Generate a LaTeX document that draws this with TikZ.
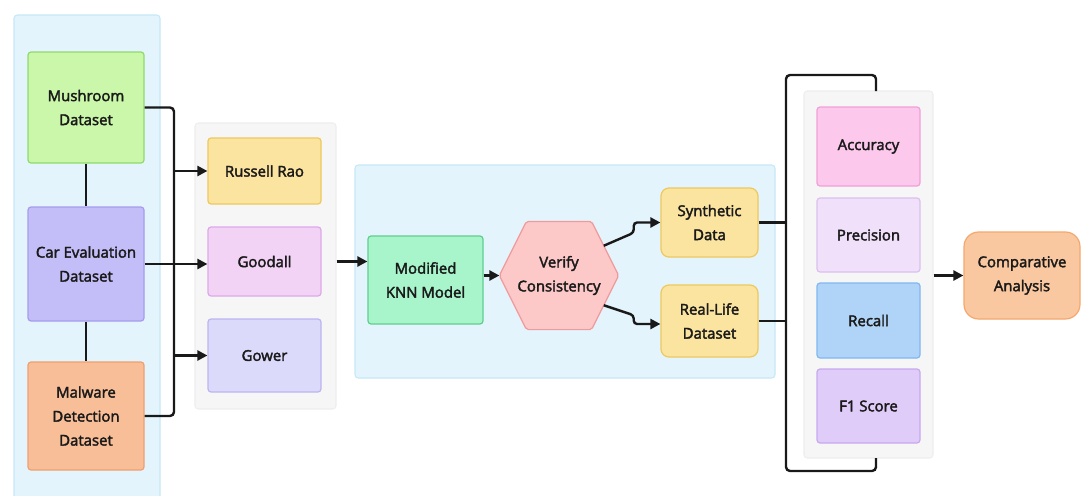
\documentclass[tikz,border=0pt]{standalone}
\usepackage{fontspec}
\setmainfont{Open Sans}[FakeBold=2.5]
\usetikzlibrary{arrows.meta,calc}
\definecolor{panelblue}{HTML}{E3F4FC}
\definecolor{panelblueb}{HTML}{C6E8F8}
\definecolor{panelgray}{HTML}{F6F6F6}
\definecolor{panelgrayb}{HTML}{EEEEEE}
\definecolor{gfill}{HTML}{CAF7AA}\definecolor{gdraw}{HTML}{8FDB6C}
\definecolor{pfill}{HTML}{C4BEF8}\definecolor{pdraw}{HTML}{A69BEE}
\definecolor{ofill}{HTML}{F8BE98}\definecolor{odraw}{HTML}{F0A070}
\definecolor{yfill}{HTML}{FBE3A0}\definecolor{ydraw}{HTML}{EDC95E}
\definecolor{kfill}{HTML}{F2D3F5}\definecolor{kdraw}{HTML}{DDA8EA}
\definecolor{lfill}{HTML}{DCDAFB}\definecolor{ldraw}{HTML}{BDB5F0}
\definecolor{mfill}{HTML}{A8F5CC}\definecolor{mdraw}{HTML}{5FCF8E}
\definecolor{hfill}{HTML}{FCC8C8}\definecolor{hdraw}{HTML}{F09A9A}
\definecolor{afill}{HTML}{FCC8EC}\definecolor{adraw}{HTML}{F0A0D8}
\definecolor{prfill}{HTML}{F0E0FA}\definecolor{prdraw}{HTML}{DCC0F0}
\definecolor{rfill}{HTML}{B0D4F8}\definecolor{rdraw}{HTML}{80B8F0}
\definecolor{ffill}{HTML}{E0CCF8}\definecolor{fdraw}{HTML}{C8A8F0}
\definecolor{cfill}{HTML}{FAC8A0}\definecolor{cdraw}{HTML}{F4A870}
\definecolor{txt}{HTML}{1A1A1A}
\tikzset{
  sz/.style 2 args={minimum width=#1*0.75pt, minimum height=#2*0.75pt},
  box/.style={draw, line width=0.9pt, rounded corners=2.3pt, align=center, inner sep=0pt,
    text=txt, font=\fontsize{11.2}{18}\selectfont},
  panel/.style={draw, line width=0.8pt, rounded corners=2.5pt, inner sep=0pt},
  conn/.style={line width=1.8pt, black!90, rounded corners=3pt},
  arr/.style={line width=1.8pt, black!90, -{Triangle[length=7.5pt,width=7.5pt]}},
  jarr/.style={arr, rounded corners=2.5pt},
}
\begin{document}
\begin{tikzpicture}[x=0.75pt,y=-0.75pt]
\useasboundingbox (0,0) rectangle (1089,496);
\fill[white] (0,0) rectangle (1089,496);
% panels
\node[panel, fill=panelblue, draw=panelblueb, sz={146}{490}] (p1) at (87,260) {};
\node[panel, fill=panelgray, draw=panelgrayb, sz={141}{286}] (p2) at (265.5,266) {};
\node[panel, fill=panelblue, draw=panelblueb, sz={420}{213}] (p3) at (565,271.5) {};
\node[panel, fill=panelgray, draw=panelgrayb, sz={129}{367}] (p4) at (868.5,274.5) {};
% datasets
\node[box, fill=gfill, draw=gdraw, sz={116}{111}] (mush) at (86,107.5) {Mushroom\\Dataset};
\node[box, fill=pfill, draw=pdraw, sz={116}{114}] (car) at (86,264) {Car Evaluation\\Dataset};
\node[box, fill=ofill, draw=odraw, sz={116}{108}] (mal) at (86,416) {Malware\\Detection\\Dataset};
% measures
\node[box, fill=yfill, draw=ydraw, sz={113}{66}] (russ) at (264.5,171) {Russell Rao};
\node[box, fill=kfill, draw=kdraw, sz={113}{69}] (good) at (264.5,261.5) {Goodall};
\node[box, fill=lfill, draw=ldraw, sz={113}{73}] (gow) at (264.5,355.5) {Gower};
% model
\node[box, fill=mfill, draw=mdraw, sz={115}{88}] (knn) at (425.5,280) {Modified\\KNN Model};
\node[box, draw=none, sz={118}{107}] (hex) at (559,275.5) {};
\coordinate (hnw) at ($(hex.north west)+(27,0)$);
\coordinate (hne) at ($(hex.north east)+(-27,0)$);
\coordinate (hsw) at ($(hex.south west)+(27,0)$);
\coordinate (hse) at ($(hex.south east)+(-27,0)$);
\filldraw[fill=hfill, draw=hdraw, line width=0.9pt, rounded corners=1.5pt]
  (hex.west) -- (hnw) -- (hne) -- (hex.east) -- (hse) -- (hsw) -- cycle;
\node[box, draw=none, sz={118}{107}] at (hex) {Verify\\Consistency};
\node[box, fill=yfill, draw=ydraw, rounded corners=6pt, sz={97}{69}] (syn) at (709.5,222.5) {Synthetic\\Data};
\node[box, fill=yfill, draw=ydraw, rounded corners=6pt, sz={97}{72}] (real) at (709.5,321) {Real-Life\\Dataset};
% metrics
\node[box, fill=afill, draw=adraw, sz={103}{79}] (acc) at (868.5,146.5) {Accuracy};
\node[box, fill=prfill, draw=prdraw, sz={103}{74}] (prec) at (868.5,235) {Precision};
\node[box, fill=rfill, draw=rdraw, sz={103}{75}] (rec) at (868.5,320.5) {Recall};
\node[box, fill=ffill, draw=fdraw, sz={103}{74}] (f1) at (868.5,406) {F1 Score};
\node[box, fill=cfill, draw=cdraw, rounded corners=11pt, sz={116}{87}] (comp) at (1022,275.5) {Comparative\\Analysis};
% connectors left
\coordinate (lx) at (174,0);
\draw[conn] (mush) -- (car);
\draw[conn] (car) -- (mal);
\draw[conn] (mush.east) -| (lx |- mal.east) -- (mal.east);
\draw[arr] (lx |- russ.west) -- (russ.west);
\draw[arr] (car.east) -- (good.west |- car.east);
\draw[arr] (lx |- gow.west) -- (gow.west);
\draw[arr] (p2.east |- good) -- (knn.west |- good);
\draw[arr] (knn.east |- hex.west) -- (hex.west);
% hex to outputs
\coordinate (s1) at ($(hne)!0.45!(hex.east)$);
\coordinate (s2) at ($(hse)!0.45!(hex.east)$);
\draw[jarr] (s1) -- ++(30,-13) |- (syn.west);
\draw[jarr] (s2) -- ++(30,10) |- ($(real.west)+(0,3)$);
% bracket
\coordinate (bx) at (786,0);
\coordinate (brT) at (876,91);
\coordinate (brB) at (876,458);
\draw[conn] (brT) |- (786,75) -- (786,471) -| (brB);
\draw[conn] (syn.east) -- (syn.east -| bx);
\draw[conn] (real.east) -- (real.east -| bx);
\draw[arr] (comp -| p4.east) -- (comp.west);
\end{tikzpicture}
\end{document}
